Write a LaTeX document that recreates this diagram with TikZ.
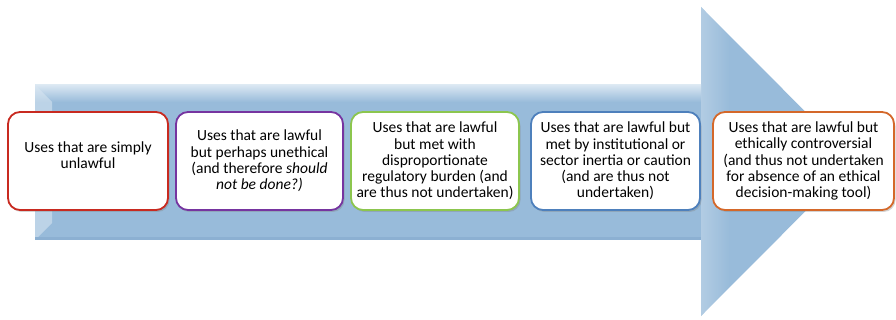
\documentclass[tikz,border=0pt]{standalone}
\usepackage{fontspec}
\setmainfont{Carlito}
\usepackage{tikz}
\usetikzlibrary{shadows,positioning}

\definecolor{shaftblue}{RGB}{152,187,218}
\definecolor{shafttop}{RGB}{218,231,242}
\definecolor{shaftlow}{RGB}{140,176,210}
\definecolor{lawred}{RGB}{200,42,32}
\definecolor{lawpurple}{RGB}{118,52,160}
\definecolor{lawgreen}{RGB}{140,198,78}
\definecolor{lawblue}{RGB}{78,128,188}
\definecolor{laworange}{RGB}{212,104,42}

\begin{document}
\begin{tikzpicture}[x=1pt,y=-1pt,
  usebox/.style={draw,line width=1.8pt,fill=white,rounded corners=12pt,
    minimum height=98pt,align=center,inner sep=1pt,
    font=\fontsize{15.5}{16.3}\selectfont,
    drop shadow={shadow xshift=1.5pt,shadow yshift=-2pt,opacity=0.35}}]
  \useasboundingbox (0,0) rectangle (896,320);

  % the big arrow
  \fill[shaftblue] (35,85) -- (701,85) -- (701,7) -- (855,161.5) -- (701,316)
    -- (701,240) -- (35,240) -- cycle;
  \shade[top color=shafttop,bottom color=shaftblue] (35,85) rectangle (701,102);
  \fill[shafttop,opacity=0.55] (35,85) -- (52,102) -- (52,223) -- (35,240) -- cycle;
  \shade[left color=shafttop,right color=shaftblue,opacity=0.4]
    (701,7) -- (730,37) -- (730,286) -- (701,316) -- cycle;
  \fill[shaftlow] (35,237) rectangle (701,240);

  \node[usebox,draw=lawred,minimum width=160pt] (simply) at (88,161)
    {Uses that are simply\\unlawful\\[-5pt]};
  \node[usebox,draw=lawpurple,minimum width=167pt] (unethical) at (259.5,161)
    {Uses that are lawful\\but perhaps unethical\\(and therefore \textit{should}\\\textit{not be done?)}};
  \node[usebox,draw=lawgreen,minimum width=168pt] (burden) at (435,161)
    {Uses that are lawful\\but met with\\disproportionate\\regulatory burden (and\\are thus not undertaken)};
  \node[usebox,draw=lawblue,minimum width=169pt] (inertia) at (615.5,161)
    {Uses that are lawful but\\met by institutional or\\sector inertia or caution\\(and are thus not\\undertaken)};
  \node[usebox,draw=laworange,minimum width=181pt] (controversial) at (803.5,161)
    {Uses that are lawful but\\ethically controversial\\(and thus not undertaken\\for absence of an ethical\\decision-making tool)};
\end{tikzpicture}
\end{document}
